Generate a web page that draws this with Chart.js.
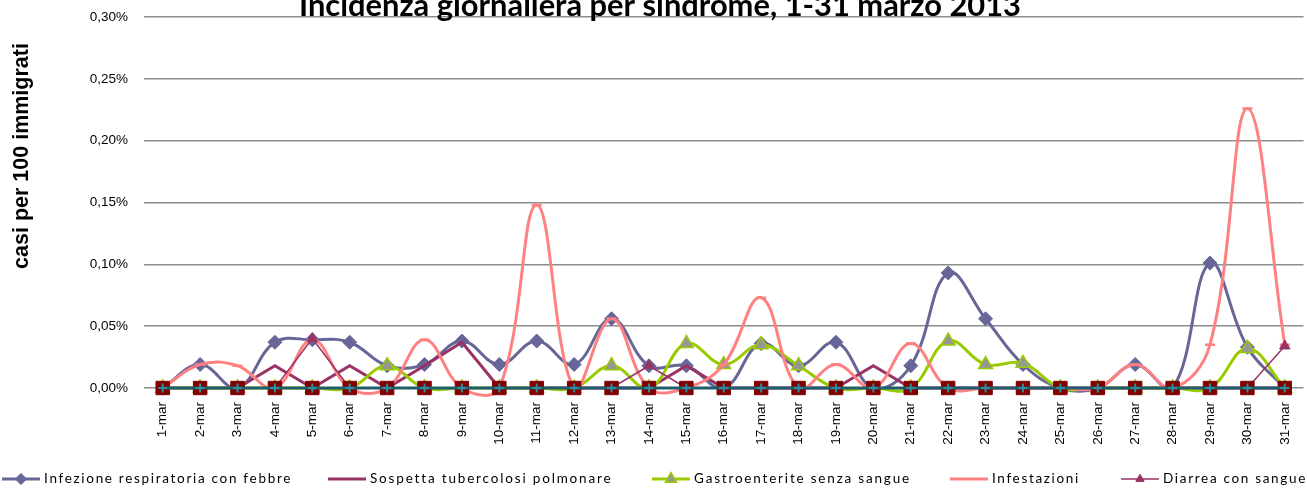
<!DOCTYPE html>
<html><head><meta charset="utf-8">
<script src="https://cdn.jsdelivr.net/npm/chart.js@4.4.1/dist/chart.umd.min.js"></script>
<style>
html,body{margin:0;padding:0;background:#fff;overflow:hidden;}
#wrap{position:relative;width:1307px;height:499px;overflow:hidden;background:#fff;}
#c{position:absolute;left:0;top:0;}
</style></head><body>
<div id="wrap"><canvas id="c" width="1314" height="499" style="width:1314px;height:499px"></canvas></div>
<script>
// ---- data (values in % = cases per 100 immigrants) ----
const days = ['1-mar','2-mar','3-mar','4-mar','5-mar','6-mar','7-mar','8-mar','9-mar','10-mar','11-mar','12-mar','13-mar','14-mar','15-mar','16-mar','17-mar','18-mar','19-mar','20-mar','21-mar','22-mar','23-mar','24-mar','25-mar','26-mar','27-mar','28-mar','29-mar','30-mar','31-mar'];
const yTicks = [0, 0.05, 0.10, 0.15, 0.20, 0.25, 0.30];
const seriesNames = ['Infezione respiratoria con febbre','Sospetta tubercolosi polmonare','Gastroenterite senza sangue','Infestazioni','Diarrea con sangue'];
const infezione     = [0,0.019,0,0.037,0.039,0.037,0.018,0.019,0.038,0.019,0.038,0.019,0.056,0.018,0.018,0,0.036,0.018,0.037,0,0.018,0.093,0.056,0.019,0,0,0.019,0,0.101,0.033,0];
const tubercolosi   = [0,0,0,0.018,0,0.018,0,0.018,0.037,0,0,0,0,0,0.018,0,0,0,0,0.018,0,0,0,0,0,0,0,0,0,0,0];
const gastro        = [0,0,0,0,0,0,0.018,0,0,0,0,0,0.018,0,0.036,0.019,0.035,0.018,0,0,0,0.038,0.019,0.020,0,0,0,0,0,0.032,0];
const infestazioni  = [0,0.019,0.018,0,0.039,0,0,0.039,0,0,0.148,0,0.056,0,0,0.019,0.073,0,0.019,0,0.036,0,0,0,0,0,0.019,0,0.035,0.226,0.035];
const diarrea       = [0,0,0,0,0.04,0,0,0,0,0,0,0,0,0.018,0,0,0,0,0,0,0,0,0,0,0,0,0,0,0,0,0.034];
const altreA        = [0,0,0,0,0,0,0,0,0,0,0,0,0,0,0,0,0,0,0,0,0,0,0,0,0,0,0,0,0,0,0];
const altreB        = [0,0,0,0,0,0,0,0,0,0,0,0,0,0,0,0,0,0,0,0,0,0,0,0,0,0,0,0,0,0,0];
const titleText = 'Incidenza giornaliera per sindrome, 1-31 marzo 2013';
const yTitleText = 'casi per 100 immigrati';

const ds = [
  {label: seriesNames[0], data: infezione, borderColor:'#666699', backgroundColor:'#666699', borderWidth:3,
   pointStyle:'rectRot', pointRadius:7, pointBorderWidth:1, tension:0.4, order:7},
  {label: seriesNames[1], data: tubercolosi, borderColor:'#993366', backgroundColor:'#993366', borderWidth:3,
   pointRadius:0, tension:0, order:6},
  {label: seriesNames[2], data: gastro, borderColor:'#99CC00', backgroundColor:'#969696', borderWidth:3,
   pointStyle:'triangle', pointRadius:8, pointBorderWidth:1.5, pointBorderColor:'#99CC00', tension:0.4, order:5},
  {label: seriesNames[3], data: infestazioni, borderColor:'#FF8080', backgroundColor:'#FF8080', borderWidth:3,
   pointStyle:'line', pointRadius:5, pointBorderWidth:2.5, tension:0.4, order:4},
  {label: seriesNames[4], data: diarrea, borderColor:'#993366', backgroundColor:'#993366', borderWidth:1.5,
   pointStyle:'triangle', pointRadius:6, pointBorderWidth:1, tension:0, order:3},
  {label: '', data: altreA, borderColor:'#B02828', backgroundColor:'#800000', borderWidth:2,
   pointStyle:'rect', pointRadius:9.5, pointBorderWidth:1, pointBorderColor:'#800000', tension:0, order:2},
  {label: ' ', data: altreB, borderColor:'#1F5C6C', backgroundColor:'#2E8D9C', borderWidth:3,
   pointStyle:'cross', pointRadius:4.5, pointBorderWidth:2, pointBorderColor:'#2E8D9C', tension:0, order:1}
];
ds.forEach(d => { d.clip = false; d.pointHoverRadius = d.pointRadius; if (!d.pointBorderColor) d.pointBorderColor = d.borderColor; d.pointBackgroundColor = d.backgroundColor; });

const legendShown = [0,1,2,3,4];
const legendLineX = [2, 328, 652, 950, 1121];
const legendTextW = [248, 242, 217, 88, 144];
const legendY = 479;

function spacedText(ctx, text, x, y, target) {
  if ('letterSpacing' in ctx) ctx.letterSpacing = '0px';
  const w = ctx.measureText(text).width;
  if (target && 'letterSpacing' in ctx) {
    ctx.letterSpacing = ((target - w) / text.length).toFixed(2) + 'px';
  }
  ctx.fillText(text, x, y);
  if ('letterSpacing' in ctx) ctx.letterSpacing = '0px';
}

const overlay = {
  id: 'overlay',
  afterDraw(chart) {
    const ctx = chart.ctx;
    ctx.save();
    ctx.fillStyle = '#000';
    // title (top is cut off in the original)
    ctx.textAlign = 'center'; ctx.textBaseline = 'alphabetic';
    ctx.font = 'bold 24px Lato';
    const tw = ctx.measureText(titleText).width;
    ctx.font = 'bold ' + (24 * 722 / tw).toFixed(2) + 'px Lato';
    ctx.fillText(titleText, 660, 16);
    // y axis title
    ctx.save();
    ctx.translate(22, 156);
    ctx.rotate(-Math.PI / 2);
    ctx.font = 'bold 16px "Liberation Sans", Arial';
    const yw = ctx.measureText(yTitleText).width;
    ctx.font = 'bold ' + (16 * 226 / yw).toFixed(2) + 'px "Liberation Sans", Arial';
    ctx.textBaseline = 'middle';
    ctx.fillText(yTitleText, 0, 0);
    ctx.restore();
    // legend
    ctx.textAlign = 'left'; ctx.textBaseline = 'middle';
    legendShown.forEach((di, k) => {
      const d = chart.data.datasets[di];
      const x0 = legendLineX[k];
      ctx.strokeStyle = d.borderColor;
      ctx.lineWidth = d.borderWidth;
      ctx.beginPath(); ctx.moveTo(x0, legendY); ctx.lineTo(x0 + 38, legendY); ctx.stroke();
      if (d.pointRadius > 0 && d.pointStyle !== 'line') {
        ctx.fillStyle = d.pointBackgroundColor;
        ctx.strokeStyle = d.pointBorderColor;
        ctx.lineWidth = d.pointBorderWidth;
        Chart.helpers.drawPoint(ctx, {pointStyle: d.pointStyle, radius: d.pointRadius * 0.8, borderWidth: d.pointBorderWidth, rotation: 0}, x0 + 19, legendY);
      }
      ctx.fillStyle = '#000';
      ctx.font = '13.5px Lato';
      spacedText(ctx, d.label, x0 + 42, legendY, legendTextW[k]);
    });
    ctx.restore();
  }
};

new Chart(document.getElementById('c'), {
  type: 'line',
  data: { labels: days, datasets: ds },
  options: {
    responsive: false, animation: false, devicePixelRatio: 1,
    layout: { padding: { top: 17, left: 0, right: 0, bottom: 0 } },
    elements: { line: { capBezierPoints: false } },
    plugins: { legend: { display: false }, title: { display: false }, tooltip: { enabled: false } },
    scales: {
      x: {
        offset: true,
        grid: { display: false },
        border: { display: false },
        ticks: { autoSkip: false, minRotation: 90, maxRotation: 90, padding: 6, color: '#000',
                 font: { family: '"Liberation Sans", Arial', size: 13.5 } },
        afterFit(s) { s.height = 111; s.paddingLeft = 0; s.paddingRight = 0; }
      },
      y: {
        min: 0, max: 0.30,
        afterBuildTicks(s) { s.ticks = yTicks.map(v => ({ value: v })); },
        grid: { color: '#8c8c8c', lineWidth: 1.5, drawTicks: false },
        border: { display: false },
        ticks: { padding: 16, color: '#000', font: { family: '"Liberation Sans", Arial', size: 13.5 },
                 callback: v => v.toFixed(2).replace('.', ',') + '%' },
        afterFit(s) { s.width = 144; s.paddingTop = 0; s.paddingBottom = 0; }
      }
    }
  },
  plugins: [overlay]
});
</script>
</body></html>
